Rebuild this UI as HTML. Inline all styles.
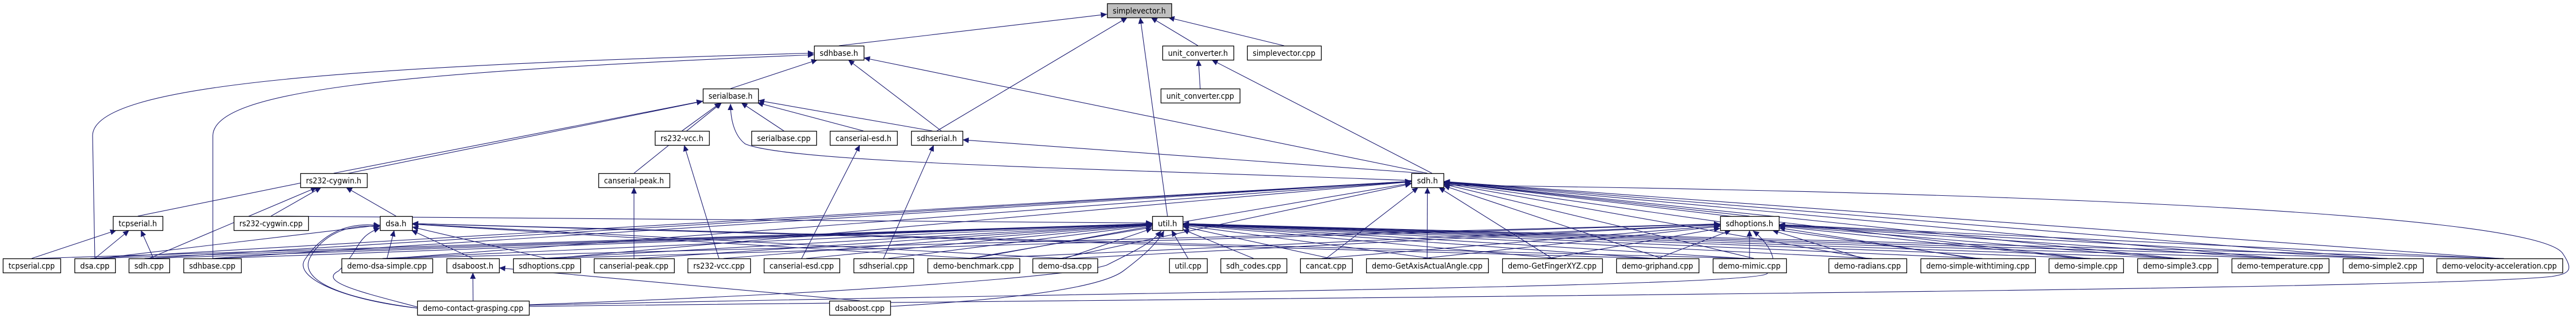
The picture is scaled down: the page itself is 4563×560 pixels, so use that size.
<!DOCTYPE html>
<html><head><meta charset="utf-8">
<style>
html,body{margin:0;padding:0;background:#fff;width:4563px;height:560px;overflow:hidden}
svg{display:block}
text{font-family:"DejaVu Sans Condensed","Liberation Sans Narrow","Liberation Sans",sans-serif;font-size:14px;fill:#000}
</style></head>
<body>
<svg id="g" width="4563" height="560" viewBox="0 0 4563 560" xmlns="http://www.w3.org/2000/svg">
<defs>
<marker id="ah" markerUnits="userSpaceOnUse" markerWidth="12" markerHeight="10" refX="11" refY="5" orient="auto">
<path d="M0,0 L11,5 L0,10 z" fill="#191970"/>
</marker>
</defs>
<g id="edges" fill="none" stroke="#191970" stroke-width="1.1">
<path d="M168,458 L164,240 C166,150 600,118 1442,94" marker-end="url(#ah)"/>
<path d="M377,458 L377,240 C380,160 700,128 1442,97" marker-end="url(#ah)"/>
<path d="M2500,320 C2000,300 1400,290 1320,255 C1300,240 1294,210 1294,184" marker-end="url(#ah)"/>
<path d="M2557,328 C3600,340 4500,380 4540,450 C4560,480 4550,485 4520,490 C4300,515 2000,530 937,543"/>
<path d="M739,546 C600,530 520,490 540,460 C560,430 600,390 673,400" marker-end="url(#ah)"/>
<path d="M739,546 C580,525 530,490 550,455 C570,420 610,395 673,402" marker-end="url(#ah)"/>
<path d="M739,544 C650,520 560,500 600,480 C640,440 630,420 673,404" marker-end="url(#ah)"/>
<path d="M937,540 C1500,520 1900,490 1960,470 C2020,440 2040,430 2057,409" marker-end="url(#ah)"/>
<path d="M1577,543 C1800,530 1950,510 1990,480 C2030,450 2050,430 2062,409" marker-end="url(#ah)"/>
<path d="M937,541 C1800,520 3100,510 3130,485 C3160,460 3120,420 3105,409" marker-end="url(#ah)"/>
</g>
<g id="nodes"></g>
<g id="labels">
<text x="2018" y="25">simplevector.h</text>
<text x="1486" y="100">sdhbase.h</text>
<text x="2122" y="100">unit_converter.h</text>
<text x="2274" y="100">simplevector.cpp</text>
<text x="1294" y="175">serialbase.h</text>
<text x="2126" y="175">unit_converter.cpp</text>
<text x="1208" y="250">rs232-vcc.h</text>
<text x="1388" y="250">serialbase.cpp</text>
<text x="1529" y="250">canserial-esd.h</text>
<text x="1659" y="250">sdhserial.h</text>
<text x="1123" y="325">canserial-peak.h</text>
<text x="591" y="325">rs232-cygwin.h</text>
<text x="2528" y="325">sdh.h</text>
<text x="244" y="401">tcpserial.h</text>
<text x="480" y="401">rs232-cygwin.cpp</text>
<text x="701" y="401">dsa.h</text>
<text x="2068" y="401">util.h</text>
<text x="3099" y="401">sdhoptions.h</text>
<text x="56" y="476">tcpserial.cpp</text>
<text x="168" y="476">dsa.cpp</text>
<text x="264" y="476">sdh.cpp</text>
<text x="376" y="476">sdhbase.cpp</text>
<text x="685" y="476">demo-dsa-simple.cpp</text>
<text x="837" y="476">dsaboost.h</text>
<text x="968" y="476">sdhoptions.cpp</text>
<text x="1123" y="476">canserial-peak.cpp</text>
<text x="1273" y="476">rs232-vcc.cpp</text>
<text x="1420" y="476">canserial-esd.cpp</text>
<text x="1565" y="476">sdhserial.cpp</text>
<text x="1724" y="476">demo-benchmark.cpp</text>
<text x="1886" y="476">demo-dsa.cpp</text>
<text x="2104" y="476">util.cpp</text>
<text x="2220" y="476">sdh_codes.cpp</text>
<text x="2349" y="476">cancat.cpp</text>
<text x="2528" y="476">demo-GetAxisActualAngle.cpp</text>
<text x="2749" y="476">demo-GetFingerXYZ.cpp</text>
<text x="2936" y="476">demo-griphand.cpp</text>
<text x="3099" y="476">demo-mimic.cpp</text>
<text x="3308" y="476">demo-radians.cpp</text>
<text x="3503" y="476">demo-simple-withtiming.cpp</text>
<text x="3695" y="476">demo-simple.cpp</text>
<text x="3857" y="476">demo-simple3.cpp</text>
<text x="4039" y="476">demo-temperature.cpp</text>
<text x="4221" y="476">demo-simple2.cpp</text>
<text x="4427" y="476">demo-velocity-acceleration.cpp</text>
<text x="838" y="551">demo-contact-grasping.cpp</text>
<text x="1523" y="551">dsaboost.cpp</text>
</g>
</svg>
<script>
(function(){
var RY=[6,81,157,232,307,383,458,533],H=25;
var N={
"simplevector.h":[1961,2075,0],
"sdhbase.h":[1442,1530,1],"unit_converter.h":[2059,2185,1],"simplevector.cpp":[2209,2340,1],
"serialbase.h":[1245,1343,2],"unit_converter.cpp":[2056,2196,2],
"rs232-vcc.h":[1160,1256,3],"serialbase.cpp":[1331,1446,3],"canserial-esd.h":[1470,1589,3],"sdhserial.h":[1614,1705,3],
"canserial-peak.h":[1060,1186,4],"rs232-cygwin.h":[532,650,4],"sdh.h":[2500,2557,4],
"tcpserial.h":[200,288,5],"rs232-cygwin.cpp":[414,546,5],"dsa.h":[673,730,5],"util.h":[2041,2095,5],"sdhoptions.h":[3047,3151,5],
"tcpserial.cpp":[5,107,6],"dsa.cpp":[132,204,6],"sdh.cpp":[228,300,6],"sdhbase.cpp":[325,427,6],"demo-dsa-simple.cpp":[605,766,6],
"dsaboost.h":[791,884,6],"sdhoptions.cpp":[909,1028,6],"canserial-peak.cpp":[1052,1194,6],"rs232-vcc.cpp":[1218,1329,6],
"canserial-esd.cpp":[1353,1487,6],"sdhserial.cpp":[1512,1618,6],"demo-benchmark.cpp":[1643,1806,6],"demo-dsa.cpp":[1829,1944,6],
"util.cpp":[2071,2138,6],"sdh_codes.cpp":[2162,2279,6],"cancat.cpp":[2303,2395,6],"demo-GetAxisActualAngle.cpp":[2420,2636,6],
"demo-GetFingerXYZ.cpp":[2661,2838,6],"demo-griphand.cpp":[2863,3009,6],"demo-mimic.cpp":[3034,3164,6],"demo-radians.cpp":[3239,3377,6],
"demo-simple-withtiming.cpp":[3402,3605,6],"demo-simple.cpp":[3629,3761,6],"demo-simple3.cpp":[3786,3928,6],
"demo-temperature.cpp":[3953,4125,6],"demo-simple2.cpp":[4150,4292,6],"demo-velocity-acceleration.cpp":[4316,4539,6],
"demo-contact-grasping.cpp":[739,937,7],"dsaboost.cpp":[1469,1577,7]};
var svgns="http://www.w3.org/2000/svg";
var ng=document.getElementById("nodes"),eg=document.getElementById("edges");
for(var k in N){var n=N[k];var r=document.createElementNS(svgns,"rect");
r.setAttribute("x",n[0]+0.5);r.setAttribute("y",RY[n[2]]+0.5);r.setAttribute("width",n[1]-n[0]);r.setAttribute("height",H);
r.setAttribute("fill",k=="simplevector.h"?"#bfbfbf":"#fff");r.setAttribute("stroke","#000");r.setAttribute("stroke-width","1.3");ng.appendChild(r);}
var demos=["demo-benchmark.cpp","demo-dsa.cpp","demo-GetAxisActualAngle.cpp","demo-GetFingerXYZ.cpp","demo-griphand.cpp","demo-mimic.cpp","demo-radians.cpp","demo-simple-withtiming.cpp","demo-simple.cpp","demo-simple3.cpp","demo-temperature.cpp","demo-simple2.cpp","demo-velocity-acceleration.cpp"];
var E=[["sdhbase.h","simplevector.h"],["sdhserial.h","simplevector.h"],["util.h","simplevector.h"],["unit_converter.h","simplevector.h"],["simplevector.cpp","simplevector.h"],
["serialbase.h","sdhbase.h"],["sdhserial.h","sdhbase.h"],["sdh.h","sdhbase.h"],
["rs232-vcc.h","serialbase.h"],["serialbase.cpp","serialbase.h"],["canserial-esd.h","serialbase.h"],["sdhserial.h","serialbase.h"],["canserial-peak.h","serialbase.h"],["rs232-cygwin.h","serialbase.h"],["tcpserial.h","serialbase.h"],
["unit_converter.cpp","unit_converter.h"],["sdh.h","unit_converter.h"],
["rs232-vcc.cpp","rs232-vcc.h"],["canserial-esd.cpp","canserial-esd.h"],["canserial-peak.cpp","canserial-peak.h"],["sdhserial.cpp","sdhserial.h"],["sdh.h","sdhserial.h"],
["rs232-cygwin.cpp","rs232-cygwin.h"],["dsa.h","rs232-cygwin.h"],["sdh.cpp","rs232-cygwin.h"],
["tcpserial.cpp","tcpserial.h"],["dsa.cpp","tcpserial.h"],["sdh.cpp","tcpserial.h"],
["dsa.cpp","dsa.h"],["demo-dsa-simple.cpp","dsa.h"],["dsaboost.h","dsa.h"],["sdhoptions.cpp","dsa.h"],["demo-dsa.cpp","dsa.h"],["demo-benchmark.cpp","dsa.h"],["demo-mimic.cpp","dsa.h"],["demo-griphand.cpp","dsa.h"],
["demo-contact-grasping.cpp","dsaboost.h"],["dsaboost.cpp","dsaboost.h"],
["sdhoptions.h","sdh.h"],["sdh.cpp","sdh.h"],["dsa.cpp","sdh.h"],["sdhoptions.cpp","sdh.h"],["cancat.cpp","sdh.h"],["demo-dsa-simple.cpp","sdh.h"],["sdhbase.cpp","sdh.h"],
["util.cpp","util.h"],["sdh_codes.cpp","util.h"],["dsa.cpp","util.h"],["sdh.cpp","util.h"],["sdhbase.cpp","util.h"],["sdhoptions.cpp","util.h"],["canserial-peak.cpp","util.h"],["rs232-vcc.cpp","util.h"],["canserial-esd.cpp","util.h"],["sdhserial.cpp","util.h"],["cancat.cpp","util.h"],["demo-dsa-simple.cpp","util.h"],["rs232-cygwin.cpp","util.h"],["tcpserial.cpp","util.h"],
["sdhoptions.cpp","sdhoptions.h"],["demo-dsa-simple.cpp","sdhoptions.h"],["demo-dsa.cpp","sdhoptions.h"],["demo-benchmark.cpp","sdhoptions.h"],["cancat.cpp","sdhoptions.h"]];
demos.forEach(function(d){E.push([d,"sdh.h"]);E.push([d,"util.h"]);if(d!="demo-benchmark.cpp"&&d!="demo-dsa.cpp")E.push([d,"sdhoptions.h"]);});
function clip(sx,sy,p){var x1=p[0],x2=p[1],y1=RY[p[2]],y2=y1+H,cx=(x1+x2)/2,cy=(y1+y2)/2;
 var dx=cx-sx,dy=cy-sy;var t=1;
 if(dy<0){var ty=(y2-sy)/dy;var xx=sx+ty*dx;if(xx>=x1&&xx<=x2)return[xx,y2];}
 var tx=dx>0?(x1-sx)/dx:(x2-sx)/dx;return[sx+tx*dx,sy+tx*dy];}
var cnt={};
E.forEach(function(e){var c=N[e[0]],p=N[e[1]];if(!c||!p)return;
 cnt[e[0]]=(cnt[e[0]]||0)+1;
 var sx=(c[0]+c[1])/2+((cnt[e[0]]%3)-1)*8,sy=RY[c[2]];
 var q=clip(sx,sy,p);
 var l=document.createElementNS(svgns,"line");
 l.setAttribute("x1",sx);l.setAttribute("y1",sy);l.setAttribute("x2",q[0]);l.setAttribute("y2",q[1]);
 l.setAttribute("marker-end","url(#ah)");eg.appendChild(l);});
var ts=document.querySelectorAll("#labels text");
ts.forEach(function(t){var s=t.textContent,n=N[s];t.setAttribute("text-anchor","middle");
 if(n){t.setAttribute("x",(n[0]+n[1])/2);t.setAttribute("y",RY[n[2]]+18);
 t.setAttribute("textLength",Math.max(10,n[1]-n[0]-20));t.setAttribute("lengthAdjust","spacingAndGlyphs");}});
})();
</script>
</body></html>
